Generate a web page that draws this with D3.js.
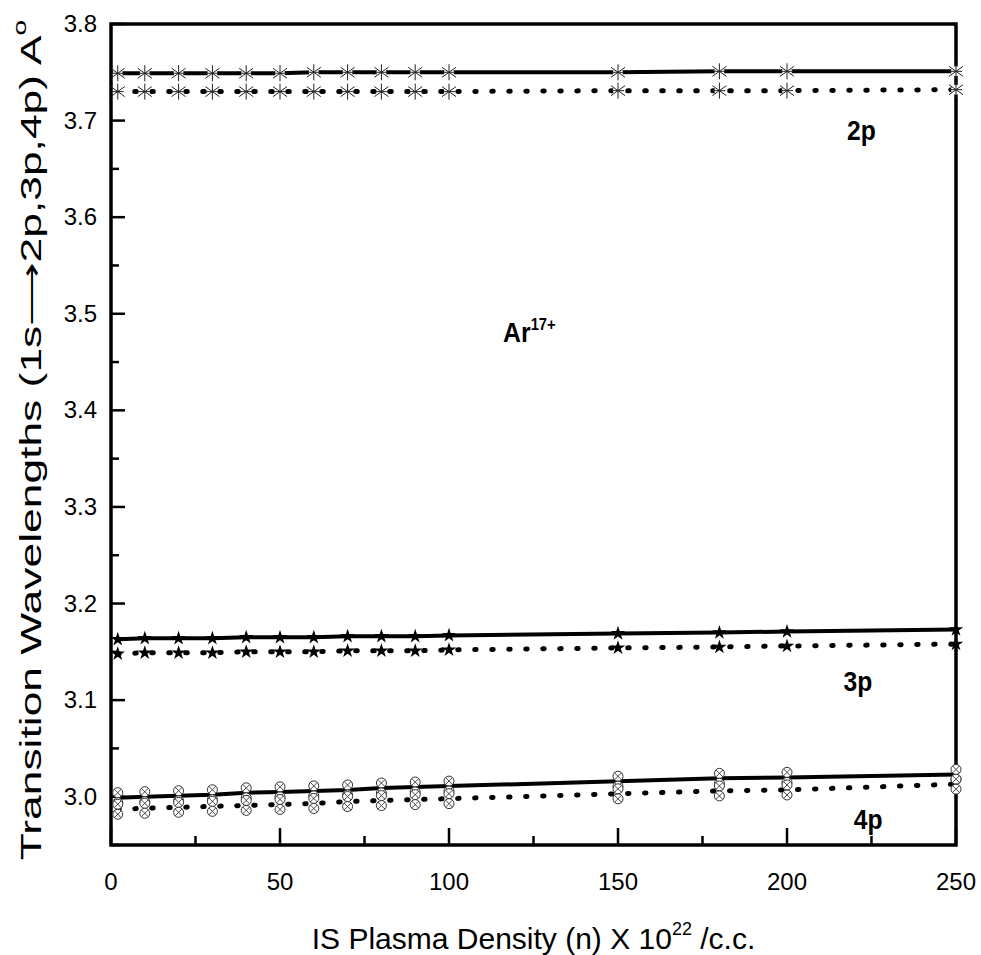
<!DOCTYPE html>
<html lang="en">
<head>
<meta charset="UTF-8"/>
<title>Ar17+ transition wavelengths vs plasma density</title>
<script src="https://d3js.org/d3.v7.min.js"></script>
<style>
    body { margin: 0; background: #fff; }
    text { font-family: "Liberation Sans", Arial, sans-serif; }
</style>
</head>
<body>
<script>
    // Plasma density values (x 10^22 /c.c.)
    var density = [2, 10, 20, 30, 40, 50, 60, 70, 80, 90, 100, 150, 180, 200, 250];

    // Wavelengths in A (solid = one model, dotted = other model)
    var p2Solid  = [3.749, 3.749, 3.749, 3.749, 3.749, 3.749, 3.750, 3.750, 3.750, 3.750, 3.750, 3.750, 3.751, 3.751, 3.751];
    var p2Dotted = [3.730, 3.730, 3.730, 3.730, 3.730, 3.730, 3.730, 3.730, 3.730, 3.730, 3.730, 3.731, 3.731, 3.731, 3.732];
    var p3Solid  = [3.163, 3.164, 3.164, 3.164, 3.165, 3.165, 3.165, 3.166, 3.166, 3.166, 3.167, 3.169, 3.170, 3.171, 3.173];
    var p3Dotted = [3.148, 3.149, 3.149, 3.149, 3.150, 3.150, 3.150, 3.151, 3.151, 3.151, 3.152, 3.154, 3.155, 3.156, 3.158];
    var p4Solid  = [2.999, 3.000, 3.001, 3.002, 3.004, 3.005, 3.006, 3.007, 3.009, 3.010, 3.011, 3.016, 3.019, 3.020, 3.023];
    var p4Dotted = [2.987, 2.988, 2.989, 2.990, 2.991, 2.992, 2.993, 2.995, 2.996, 2.997, 2.998, 3.003, 3.006, 3.007, 3.013];

    var xTicks = [0, 50, 100, 150, 200, 250];
    var yTicks = [3.0, 3.1, 3.2, 3.3, 3.4, 3.5, 3.6, 3.7, 3.8];

    var w = 981;
    var h = 955;
    var margin = {top: 24, right: 25, bottom: 110, left: 111};
    var innerW = w - margin.left - margin.right;
    var innerH = h - margin.top - margin.bottom;

    var x = d3.scaleLinear().domain([0, 250]).range([0, innerW]);
    var y = d3.scaleLinear().domain([2.95, 3.8]).range([innerH, 0]);

    var svg = d3.select("body")
        .append("svg")
        .attr("width", w)
        .attr("height", h);

    var g = svg.append("g")
        .attr("transform", "translate(" + margin.left + "," + margin.top + ")");

    // minor ticks halfway between the major ones
    var xMinor = d3.range(25, 250, 50);
    var yMinor = d3.range(2.95, 3.8, 0.1).map(function(v) { return +v.toFixed(2); });

    // ticks point inward, bottom and left only
    function tickLines(sel, vals, len, side) {
        sel.selectAll(null)
            .data(vals)
            .enter()
            .append("line")
            .attr("stroke", "#000")
            .attr("stroke-width", 2.5)
            .attr("x1", function(d) { return side == "bottom" ? x(d) : 0; })
            .attr("x2", function(d) { return side == "bottom" ? x(d) : len; })
            .attr("y1", function(d) { return side == "bottom" ? innerH : y(d); })
            .attr("y2", function(d) { return side == "bottom" ? innerH - len : y(d); });
    }

    var ticks = g.append("g").attr("class", "ticks");
    tickLines(ticks, xTicks, 17, "bottom");
    tickLines(ticks, xMinor, 9, "bottom");
    tickLines(ticks, yTicks, 14, "left");
    tickLines(ticks, yMinor, 8, "left");

    // frame
    g.append("rect")
        .attr("width", innerW)
        .attr("height", innerH)
        .attr("fill", "none")
        .attr("stroke", "#000")
        .attr("stroke-width", 3.5);

    // tick labels
    g.selectAll(".xlab")
        .data(xTicks)
        .enter()
        .append("text")
        .attr("x", function(d) { return x(d); })
        .attr("y", innerH + 45)
        .attr("text-anchor", "middle")
        .attr("font-size", "24px")
        .text(function(d) { return d; });

    g.selectAll(".ylab")
        .data(yTicks)
        .enter()
        .append("text")
        .attr("x", -14)
        .attr("y", function(d) { return y(d) + 8; })
        .attr("text-anchor", "end")
        .attr("font-size", "24px")
        .text(function(d) { return d.toFixed(1); });

    // axis titles
    var xt = svg.append("text")
        .attr("x", margin.left + innerW / 2)
        .attr("y", 949)
        .attr("text-anchor", "middle")
        .attr("font-size", "30px");
    xt.append("tspan").text("IS Plasma Density (n) X 10");
    xt.append("tspan").attr("font-size", "18px").attr("dy", -14).text("22");
    xt.append("tspan").attr("dy", 14).text(" /c.c.");

    var yt = svg.append("text")
        .attr("transform", "translate(41,440) rotate(-90) scale(1.48,1)")
        .attr("text-anchor", "middle")
        .attr("font-size", "30px");
    yt.append("tspan").text("Transition Wavelengths (1s\u27F62p,3p,4p) A");
    yt.append("tspan").attr("font-size", "19px").attr("dy", -15).text("o");

    // lines
    var line = d3.line()
        .x(function(d, i) { return x(density[i]); })
        .y(function(d) { return y(d); });

    var series = [
        {vals: p2Solid, dotted: false, mark: "ast"},
        {vals: p2Dotted, dotted: true, mark: "ast"},
        {vals: p3Solid, dotted: false, mark: "star"},
        {vals: p3Dotted, dotted: true, mark: "star"},
        {vals: p4Solid, dotted: false, mark: "oval"},
        {vals: p4Dotted, dotted: true, mark: "oval"}
    ];

    var plot = g.append("g");

    plot.selectAll(".line")
        .data(series)
        .enter()
        .append("path")
        .attr("fill", "none")
        .attr("stroke", "#000")
        .attr("stroke-width", function(d) { return d.dotted ? 5 : 4; })
        .attr("stroke-linecap", "round")
        .attr("stroke-dasharray", function(d) { return d.dotted ? "1.5,15.5" : null; })
        .attr("d", function(d) { return line(d.vals); });

    var starPath = d3.symbol().type(d3.symbolStar).size(65)();

    series.forEach(function(s) {
        var m = plot.selectAll(null)
            .data(s.vals)
            .enter()
            .append("g")
            .attr("transform", function(d, i) {
                return "translate(" + x(density[i]) + "," + y(d) + ")";
            });

        if (s.mark == "ast") {
            m.append("circle").attr("r", 5).attr("fill", "#fff");
            var arms = [[0, -8, 0, 8], [-7, -5, 7, 5], [-7, 5, 7, -5], [-6, 0, 6, 0]];
            arms.forEach(function(a) {
                m.append("line")
                    .attr("x1", a[0]).attr("y1", a[1])
                    .attr("x2", a[2]).attr("y2", a[3])
                    .attr("stroke", "#222")
                    .attr("stroke-width", 1);
            });
        } else if (s.mark == "star") {
            m.append("path")
                .attr("d", starPath)
                .attr("fill", "#000");
        } else {
            [-5, 5].forEach(function(cy) {
                m.append("circle")
                    .attr("cy", cy)
                    .attr("r", 5)
                    .attr("fill", "#fff")
                    .attr("stroke", "#333")
                    .attr("stroke-width", 1);
                m.append("line")
                    .attr("x1", -3.5).attr("y1", cy - 3.5)
                    .attr("x2", 3.5).attr("y2", cy + 3.5)
                    .attr("stroke", "#333").attr("stroke-width", 0.9);
                m.append("line")
                    .attr("x1", -3.5).attr("y1", cy + 3.5)
                    .attr("x2", 3.5).attr("y2", cy - 3.5)
                    .attr("stroke", "#333").attr("stroke-width", 0.9);
            });
        }
    });

    // curve labels
    var labels = [
        {t: "2p", x: 222, y: 3.680},
        {t: "3p", x: 221, y: 3.109},
        {t: "4p", x: 224, y: 2.967}
    ];
    plot.selectAll(".clab")
        .data(labels)
        .enter()
        .append("text")
        .attr("text-anchor", "middle")
        .attr("font-size", "28px")
        .attr("font-weight", "bold")
        .attr("transform", function(d) {
            return "translate(" + x(d.x) + "," + y(d.y) + ") scale(0.88,1)";
        })
        .text(function(d) { return d.t; });

    var ar = plot.append("text")
        .attr("font-size", "27px")
        .attr("font-weight", "bold")
        .attr("transform", "translate(" + x(116) + "," + y(3.471) + ") scale(0.92,1)");
    ar.append("tspan").text("Ar");
    ar.append("tspan").attr("font-size", "16px").attr("dy", -12).text("17+");
</script>
</body>
</html>
